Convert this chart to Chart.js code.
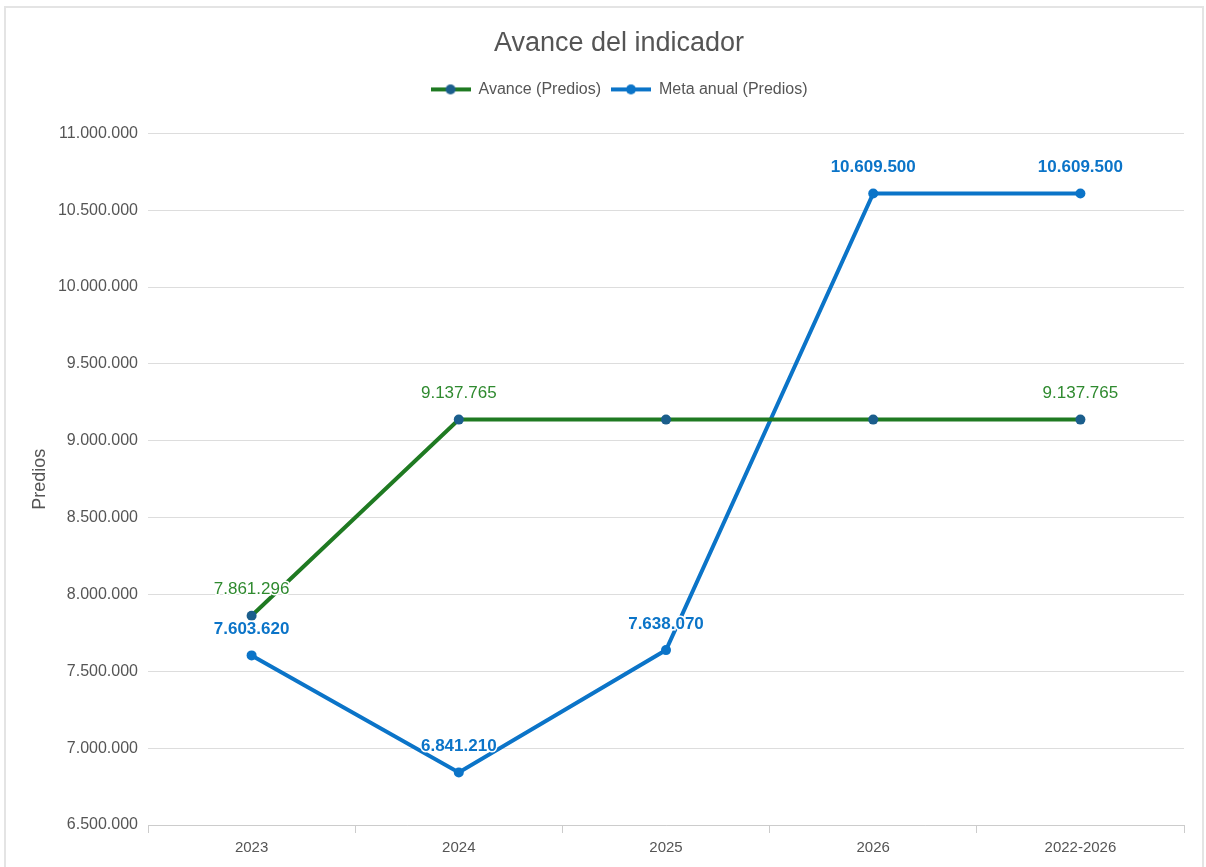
<!DOCTYPE html>
<html>
<head>
<meta charset="utf-8">
<script src="https://cdn.jsdelivr.net/npm/chart.js@4/dist/chart.umd.min.js"></script>
<style>
  html, body { margin: 0; padding: 0; background: #fff; }
  #wrap { position: relative; width: 1206px; height: 867px; overflow: hidden; }
  #frame { position: absolute; left: 4px; top: 6px; width: 1196px; height: 900px; border: 2px solid #e4e4e4; pointer-events: none; }
  canvas { position: absolute; left: 0; top: 0; }
</style>
</head>
<body>
<div id="wrap">
  <canvas id="chart" width="1206" height="867"></canvas>
  <div id="frame"></div>
</div>
<script>
const categories = ['2023', '2024', '2025', '2026', '2022-2026'];
const avance = [7861296, 9137765, 9137765, 9137765, 9137765];
const meta = [7603620, 6841210, 7638070, 10609500, 10609500];
const avanceLabelIdx = [0, 1, 4]; // puntos con etiqueta en la serie verde

const green = '#1f7a22';
const greenText = '#2f8a2f';
const blue = '#0b74c8';
const markerDark = '#1b5e8c';
const FONT = '"Liberation Sans", Arial, sans-serif';

function fmt(v) {
  return String(Math.round(v)).replace(/\B(?=(\d{3})+(?!\d))/g, '.');
}

function legendIcon(lineColor, dotColor) {
  const c = document.createElement('canvas');
  c.width = 40; c.height = 12;
  const g = c.getContext('2d');
  g.strokeStyle = lineColor;
  g.lineWidth = 4;
  g.beginPath(); g.moveTo(0, 6); g.lineTo(40, 6); g.stroke();
  g.fillStyle = dotColor;
  g.beginPath(); g.arc(20, 6, 5, 0, Math.PI * 2); g.fill();
  return c;
}
const legendIcons = [legendIcon(green, markerDark), legendIcon(blue, blue)];

const valueLabels = {
  id: 'valueLabels',
  afterDatasetsDraw(chart) {
    const ctx = chart.ctx;
    ctx.save();
    ctx.textAlign = 'center';
    ctx.textBaseline = 'middle';
    chart.data.datasets.forEach((ds, di) => {
      const meta = chart.getDatasetMeta(di);
      meta.data.forEach((pt, i) => {
        if (di === 0 && !avanceLabelIdx.includes(i)) return;
        ctx.font = (di === 0 ? '' : 'bold ') + '17px ' + FONT;
        const txt = fmt(ds.data[i]);
        ctx.lineWidth = 3;
        ctx.strokeStyle = '#fff';
        ctx.strokeText(txt, pt.x, pt.y - 26);
        ctx.fillStyle = di === 0 ? greenText : blue;
        ctx.fillText(txt, pt.x, pt.y - 26);
      });
    });
    // título del eje Y
    const a = chart.chartArea;
    ctx.translate(40, (a.top + a.bottom) / 2);
    ctx.rotate(-Math.PI / 2);
    ctx.font = '18px ' + FONT;
    ctx.fillStyle = '#555';
    ctx.fillText('Predios', 0, 0);
    ctx.restore();
  }
};

const legendGap = {
  id: 'legendGap',
  beforeInit(chart) {
    const orig = chart.legend.fit;
    chart.legend.fit = function () {
      orig.call(this);
      this.height += 26;
    };
  }
};

Chart.defaults.font.family = FONT;
Chart.defaults.color = '#555';

new Chart(document.getElementById('chart').getContext('2d'), {
  type: 'line',
  data: {
    labels: categories,
    datasets: [{
      label: 'Avance (Predios)',
      data: avance,
      borderColor: green,
      backgroundColor: markerDark,
      pointBackgroundColor: markerDark,
      pointBorderWidth: 0,
      borderWidth: 4,
      pointRadius: 5,
      pointStyle: 'circle',
      tension: 0
    }, {
      label: 'Meta anual (Predios)',
      data: meta,
      borderColor: blue,
      backgroundColor: blue,
      pointBackgroundColor: blue,
      pointBorderWidth: 0,
      borderWidth: 4,
      pointRadius: 5,
      pointStyle: 'circle',
      tension: 0
    }]
  },
  options: {
    responsive: false,
    animation: false,
    layout: { padding: { top: 27, left: 54, right: 22, bottom: 4 } },
    plugins: {
      title: {
        display: true,
        text: 'Avance del indicador',
        color: '#555',
        font: { size: 27, weight: 'normal' },
        padding: { top: 0, bottom: 12 }
      },
      legend: {
        position: 'top',
        labels: {
          usePointStyle: true,
          pointStyleWidth: 40,
          boxHeight: 12,
          color: '#555',
          font: { size: 16 },
          padding: 10,
          generateLabels(chart) {
            return chart.data.datasets.map((ds, i) => ({
              text: ds.label,
              pointStyle: legendIcons[i],
              fillStyle: ds.borderColor,
              strokeStyle: ds.borderColor,
              lineWidth: 0,
              hidden: false,
              datasetIndex: i,
              fontColor: '#555'
            }));
          }
        }
      },
      tooltip: { enabled: false }
    },
    scales: {
      x: {
        offset: true,
        grid: { offset: true, drawOnChartArea: false, tickLength: 8, color: '#cccccc' },
        border: { color: '#cccccc' },
        ticks: { color: '#555', font: { size: 15 }, padding: 6 }
      },
      y: {
        min: 6500000,
        max: 11000000,
        afterFit(scale) { scale.width = 94; },
        grid: { color: '#dddddd', drawTicks: false },
        border: { display: false },
        ticks: { stepSize: 500000, color: '#555', font: { size: 16 }, padding: 10, callback: v => fmt(v) }
      }
    }
  },
  plugins: [valueLabels, legendGap]
});
</script>
</body>
</html>
